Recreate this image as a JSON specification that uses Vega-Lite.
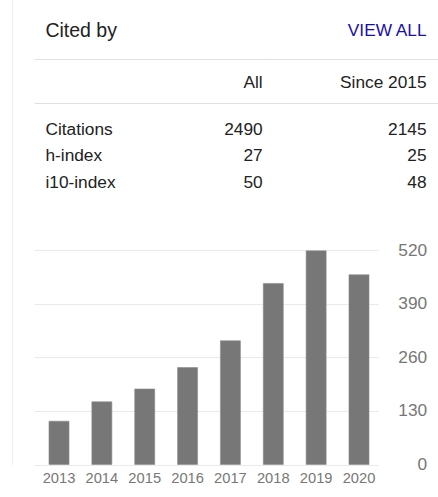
{
  "$schema": "https://vega.github.io/schema/vega-lite/v6.json",
  "padding": {"left": 12, "top": 0, "right": 0, "bottom": 0},
  "background": "white",
  "bounds": "flush",
  "spacing": 0,
  "config": {
    "font": "Liberation Sans",
    "view": {"stroke": null}
  },
  "vconcat": [
    {
      "width": 404,
      "height": 59,
      "data": {"values": [{"title": "Cited by", "link": "VIEW ALL"}]},
      "encoding": {
        "y": {"datum": 0.5, "type": "quantitative", "scale": {"domain": [0, 1]},
          "axis": {"orient": "left", "offset": 22, "title": null, "labels": false, "ticks": false, "tickSize": 0, "grid": false, "domain": true, "domainColor": "#eeeeee"}}
      },
      "layer": [
        {
          "mark": {"type": "text", "align": "left", "baseline": "middle", "fontSize": 19.5, "color": "#222222", "dy": 1.5},
          "encoding": {
            "text": {"field": "title"},
            "x": {"datum": "label", "type": "nominal",
              "scale": {"type": "point", "domain": ["label", "all", "since"], "padding": 0.06},
              "axis": {"title": null, "labels": false, "ticks": false, "tickSize": 0, "domain": true, "domainColor": "#e0e0e0", "grid": false, "orient": "bottom"}}
          }
        },
        {
          "mark": {"type": "text", "align": "right", "baseline": "middle", "fontSize": 17.3, "color": "#1a0dab", "dy": 1},
          "encoding": {
            "text": {"field": "link"},
            "x": {"datum": "since", "type": "nominal"}
          }
        }
      ]
    },
    {
      "width": 404,
      "height": 44,
      "data": {"values": [{"all": "All", "since": "Since 2015"}]},
      "encoding": {
        "y": {"datum": 0.5, "type": "quantitative", "scale": {"domain": [0, 1]},
          "axis": {"orient": "left", "offset": 22, "title": null, "labels": false, "ticks": false, "tickSize": 0, "grid": false, "domain": true, "domainColor": "#eeeeee"}}
      },
      "layer": [
        {
          "mark": {"type": "text", "align": "right", "baseline": "middle", "fontSize": 17.3, "color": "#222222", "dx": 26.7, "dy": 2},
          "encoding": {
            "text": {"field": "all"},
            "x": {"datum": "all", "type": "nominal",
              "scale": {"type": "point", "domain": ["label", "all", "since"], "padding": 0.06},
              "axis": {"title": null, "labels": false, "ticks": false, "tickSize": 0, "domain": true, "domainColor": "#e0e0e0", "grid": false, "orient": "bottom"}}
          }
        },
        {
          "mark": {"type": "text", "align": "right", "baseline": "middle", "fontSize": 17.3, "color": "#222222", "dy": 2},
          "encoding": {
            "text": {"field": "since"},
            "x": {"datum": "since", "type": "nominal"}
          }
        }
      ]
    },
    {
      "width": 404,
      "height": 147,
      "data": {"values": [
        {"metric": "Citations", "all": 2490, "since2015": 2145},
        {"metric": "h-index", "all": 27, "since2015": 25},
        {"metric": "i10-index", "all": 50, "since2015": 48}
      ]},
      "encoding": {
        "y": {"field": "metric", "type": "nominal",
          "scale": {"type": "point", "domain": ["Citations", "h-index", "i10-index", " ", "  "], "padding": 0.7736, "align": 0.646},
          "axis": {"orient": "left", "offset": 22, "title": null, "labels": false, "ticks": false, "tickSize": 0, "grid": false, "domain": true, "domainColor": "#eeeeee"}}
      },
      "layer": [
        {
          "mark": {"type": "text", "align": "left", "baseline": "middle", "fontSize": 17.3, "color": "#222222", "dy": 0.5},
          "encoding": {
            "text": {"field": "metric"},
            "x": {"datum": "label", "type": "nominal",
              "scale": {"type": "point", "domain": ["label", "all", "since"], "padding": 0.06},
              "axis": null}
          }
        },
        {
          "mark": {"type": "text", "align": "right", "baseline": "middle", "fontSize": 17.3, "color": "#222222", "dx": 26.7, "dy": 0.5},
          "encoding": {
            "text": {"field": "all"},
            "x": {"datum": "all", "type": "nominal"}
          }
        },
        {
          "mark": {"type": "text", "align": "right", "baseline": "middle", "fontSize": 17.3, "color": "#222222", "dy": 0.5},
          "encoding": {
            "text": {"field": "since2015"},
            "x": {"datum": "since", "type": "nominal"}
          }
        }
      ]
    },
    {
      "width": 344,
      "height": 214.5,
      "data": {"values": [
        {"year": "2013", "count": 105},
        {"year": "2014", "count": 152},
        {"year": "2015", "count": 183},
        {"year": "2016", "count": 235},
        {"year": "2017", "count": 300},
        {"year": "2018", "count": 439},
        {"year": "2019", "count": 518},
        {"year": "2020", "count": 460}
      ]},
      "encoding": {
        "x": {"field": "year", "type": "ordinal",
          "scale": {"paddingInner": 0.533, "paddingOuter": 0.28, "align": 0.625},
          "axis": {"title": null, "labelAngle": 0, "ticks": false, "tickSize": 0, "domain": false, "grid": false, "labelFontSize": 14.7, "labelColor": "#777777", "labelPadding": 5.5}}
      },
      "layer": [
        {
          "mark": {"type": "bar", "color": "#777777", "stroke": "#8c8c8c", "strokeWidth": 0.6},
          "encoding": {
            "y": {"field": "count", "type": "quantitative",
              "scale": {"domain": [0, 520], "nice": false},
              "axis": {"orient": "right", "title": null, "values": [0, 130, 260, 390, 520], "ticks": false, "tickSize": 0, "domain": false, "labelFontSize": 17.3, "labelColor": "#777777", "labelAlign": "right", "labelPadding": 48.7, "grid": true, "gridColor": "#eaeaea"}}
          }
        },
        {
          "mark": {"type": "bar", "opacity": 0},
          "encoding": {
            "y": {"field": "count", "type": "quantitative",
              "axis": {"orient": "left", "offset": 22, "title": null, "labels": false, "ticks": false, "tickSize": 0, "grid": false, "domain": true, "domainColor": "#eeeeee"}}
          }
        }
      ],
      "resolve": {"axis": {"y": "independent"}}
    }
  ]
}
